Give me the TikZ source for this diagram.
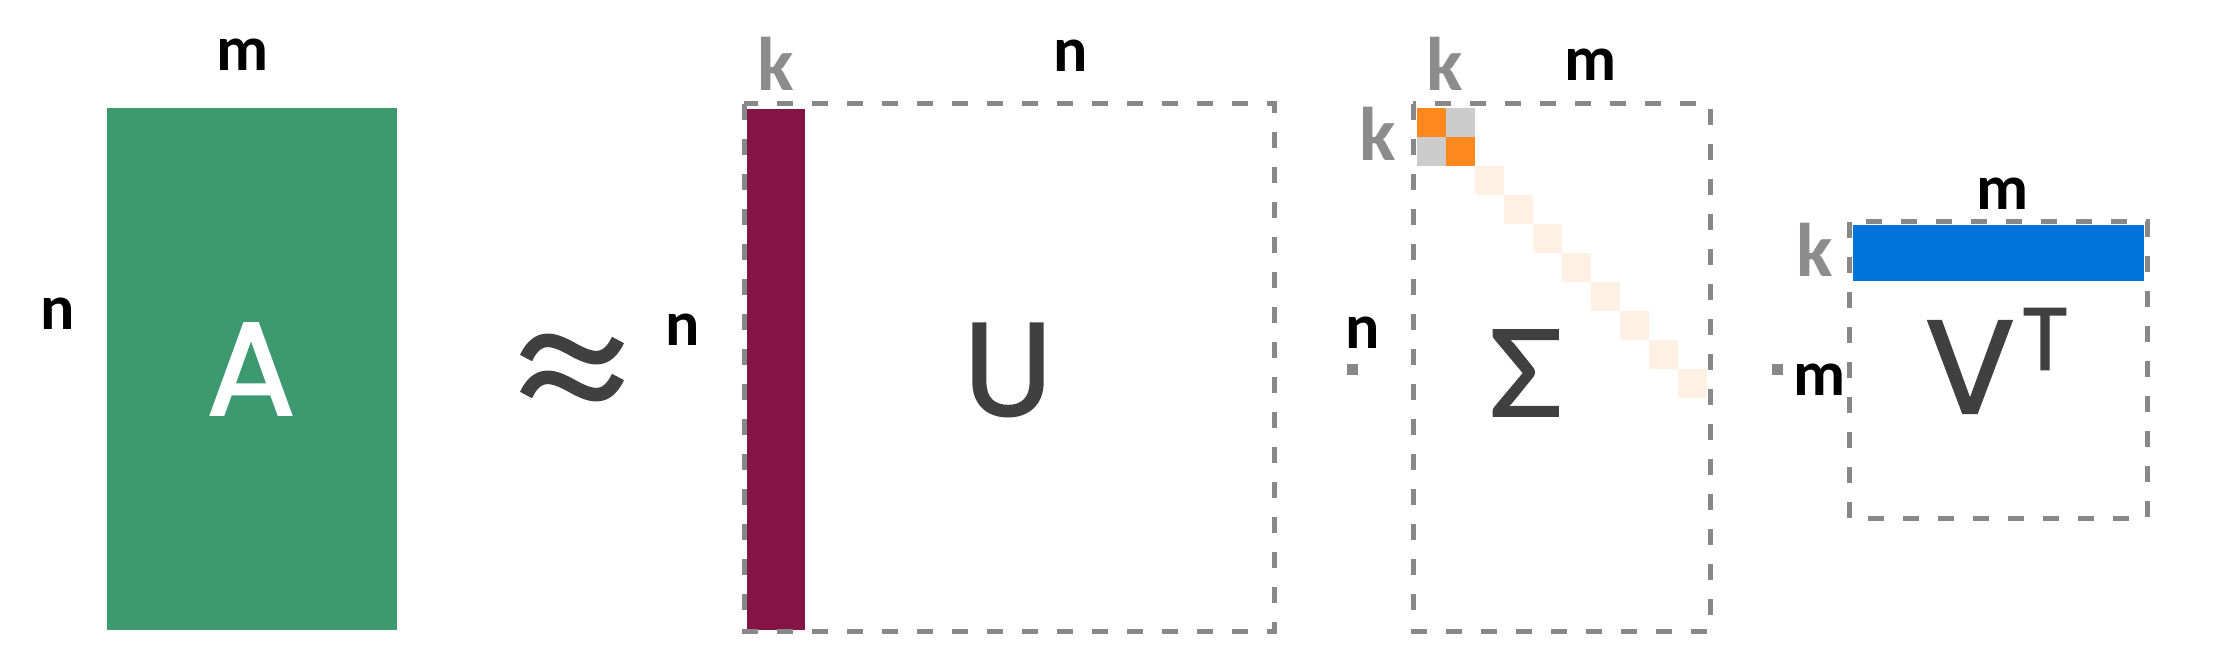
\documentclass[tikz,border=0pt]{standalone}
\usepackage{fontspec}
\setmainfont{Carlito}
\newfontfamily\bigfont{Poppins}[FakeBold=1.6]
\newfontfamily\grkfont{Lato}[FakeBold=1.6]
\definecolor{agreen}{RGB}{61,153,112}
\definecolor{umaroon}{RGB}{133,20,70}
\definecolor{vblue}{RGB}{0,115,220}
\definecolor{sorange}{RGB}{255,136,30}
\definecolor{sgray}{RGB}{204,204,204}
\definecolor{slight}{RGB}{255,240,228}
\definecolor{fgray}{RGB}{136,136,136}
\definecolor{kgray}{RGB}{140,140,140}
\definecolor{dark}{RGB}{64,64,64}
\begin{document}
\begin{tikzpicture}[x=0.5pt,y=-0.5pt,
  dimlbl/.style={inner sep=0pt, font=\bfseries\fontsize{32}{32}\selectfont, text=black},
  klbl/.style={inner sep=0pt, font=\bfseries\fontsize{38}{38}\selectfont, text=kgray},
  bigl/.style={inner sep=0pt, font=\bigfont\fontsize{66}{66}\selectfont, text=dark},
  framebox/.style={draw=fgray, line width=2.5pt, dash pattern=on 8pt off 9.5pt},
  dotsq/.style={fill=fgray},
  wave/.style={draw=dark, line width=6.8pt}
]
\useasboundingbox (0,0) rectangle (2214,662);

% ---- A ----
\fill[agreen] (107,108) rectangle (397,630);
\node[bigl,text=white] (Aletter) at (251,369) {A};
\node[dimlbl] (Am) at (243,55) {m};
\node[dimlbl] (An) at (58,314) {n};

% ---- approx ----
\foreach \yy in {349,386}{
  \draw[wave] (526,\yy+9) .. controls (538,\yy-16) and (554,\yy-10) .. (572,\yy)
                .. controls (590,\yy+10) and (606,\yy+16) .. (618,\yy-9);
}

% ---- U ----
\fill[umaroon] (747,109) rectangle (805,630);
\draw[framebox] (744,104) rectangle (1274,631);
\node[bigl] (Uletter) at (1008,370) {U};
\node[klbl] (Uk) at (776,64) {k};
\node[dimlbl] (Un) at (1071,56) {n};
\node[dimlbl] (Unl) at (683,330) {n};

% ---- dot ----
\fill[dotsq] (1347,364) rectangle (1358,375);

% ---- Sigma ----
\foreach \i in {2,...,9}{
  \fill[slight] (1417+29*\i,108+29*\i) rectangle ++(29,29);
}
\fill[sorange] (1417,108) rectangle ++(29,29);
\fill[sorange] (1446,137) rectangle ++(29,29);
\fill[sgray] (1446,108) rectangle ++(29,29);
\fill[sgray] (1417,137) rectangle ++(29,29);
\draw[framebox] (1413,104) rectangle (1710,631);
\node[bigl,font=\grkfont\fontsize{60}{60}\selectfont] (Sletter) at (1526,373) {Σ};
\node[klbl] (Sk) at (1445,64) {k};
\node[dimlbl] (Sm) at (1591,65) {m};
\node[klbl] (Skl) at (1378,134) {k};
\node[dimlbl] (Sn) at (1363,333) {n};

% ---- dot ----
\fill[dotsq] (1772,364) rectangle (1783,375);

% ---- V^T ----
\fill[vblue] (1853,225) rectangle (2144,281);
\draw[framebox] (1849,222) rectangle (2147,518);
\node[bigl] (Vletter) at (1970,367) {V};
\node[bigl,font=\bigfont\fontsize{44}{44}\selectfont] (Tletter) at (2045,339) {T};
\node[dimlbl] (Vm) at (2002,194) {m};
\node[klbl] (Vk) at (1815,250) {k};
\node[dimlbl] (Vml) at (1820,380) {m};
\end{tikzpicture}
\end{document}
